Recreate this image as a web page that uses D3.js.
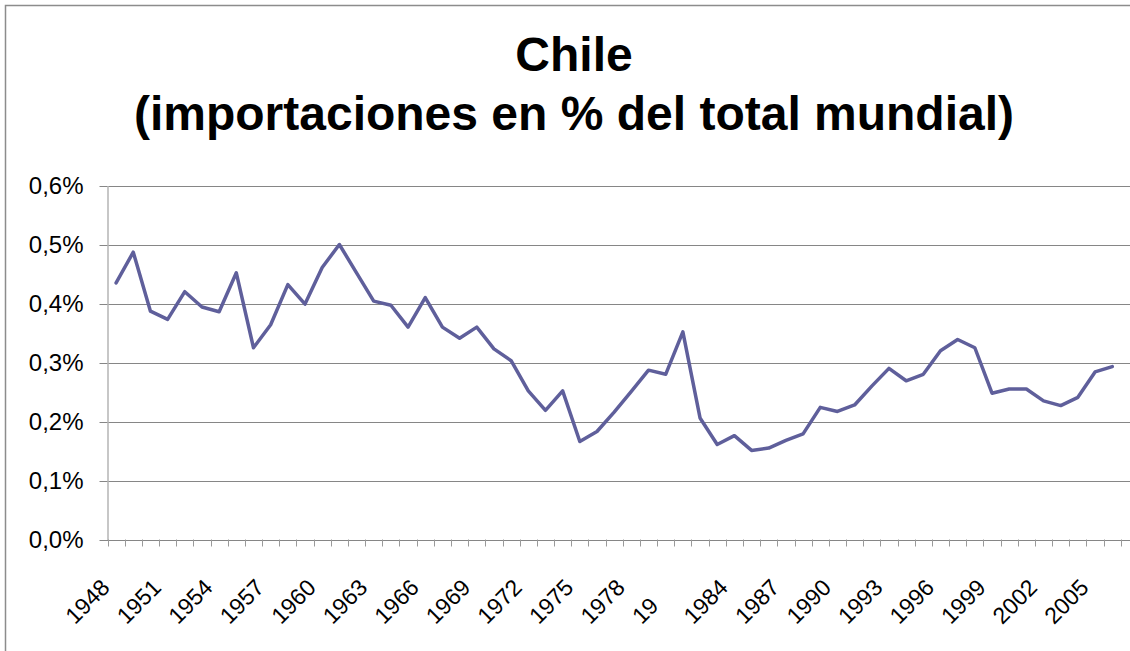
<!DOCTYPE html>
<html lang="es">
  <head>
    <meta charset="utf-8" />
    <style type="text/css">
      html,
      body {
        margin: 0;
        padding: 0;
        background: #fff;
        overflow: hidden;
      }

      svg text {
        font-family: "Liberation Sans", Arial, sans-serif;
      }

      .grid line {
        stroke: #868686;
        stroke-width: 1;
      }
    </style>
  </head>
  <body>
    <svg width="1130" height="651"></svg>

    <script src="https://d3js.org/d3.v7.min.js" type="text/javascript"></script>

    <script type="text/javascript">
      var years = [
        1948, 1949, 1950, 1951, 1952, 1953, 1954, 1955, 1956, 1957,
        1958, 1959, 1960, 1961, 1962, 1963, 1964, 1965, 1966, 1967,
        1968, 1969, 1970, 1971, 1972, 1973, 1974, 1975, 1976, 1977,
        1978, 1979, 1980, 1981, 1982, 1983, 1984, 1985, 1986, 1987,
        1988, 1989, 1990, 1991, 1992, 1993, 1994, 1995, 1996, 1997,
        1998, 1999, 2000, 2001, 2002, 2003, 2004, 2005, 2006, 2007
      ];

      // % of world imports, 1948-2006
      var importShare = [
        0.435, 0.487, 0.387, 0.373, 0.420, 0.394, 0.386, 0.452, 0.325, 0.364,
        0.432, 0.399, 0.461, 0.500, 0.452, 0.404, 0.397, 0.360, 0.410, 0.360,
        0.341, 0.360, 0.323, 0.303, 0.252, 0.219, 0.252, 0.166, 0.183, 0.216,
        0.251, 0.287, 0.280, 0.352, 0.206, 0.161, 0.176, 0.151, 0.155, 0.168,
        0.179, 0.224, 0.217, 0.228, 0.260, 0.290, 0.269, 0.280, 0.320, 0.339,
        0.325, 0.248, 0.255, 0.255, 0.235, 0.227, 0.241, 0.284, 0.293
      ];

      var tickYears = [
        1948, 1951, 1954, 1957, 1960, 1963, 1966, 1969, 1972, 1975,
        1978, 1981, 1984, 1987, 1990, 1993, 1996, 1999, 2002, 2005
      ];
      var tickLabels = [
        "1948", "1951", "1954", "1957", "1960", "1963", "1966", "1969", "1972", "1975",
        "1978", "19", "1984", "1987", "1990", "1993", "1996", "1999", "2002", "2005"
      ];

      var yTicks = [0, 0.1, 0.2, 0.3, 0.4, 0.5, 0.6];

      var titleLines = ["Chile", "(importaciones en % del total mundial)"];

      var svg = d3.select("svg");

      var plot = { left: 107.5, right: 1138, top: 185.5, bottom: 539.5 };

      var x = d3
        .scaleBand()
        .domain(years)
        .range([plot.left, plot.right])
        .paddingInner(0)
        .paddingOuter(0);

      var y = d3.scaleLinear().domain([0, 0.6]).range([plot.bottom, plot.top]);

      function xc(yr) {
        return x(yr) + x.bandwidth() / 2;
      }

      // chart frame
      svg
        .append("rect")
        .attr("x", 5.5)
        .attr("y", 5.5)
        .attr("width", 1200)
        .attr("height", 700)
        .attr("fill", "#fff")
        .attr("stroke", "#8c8c8c")
        .attr("stroke-width", 1.5);

      // title
      svg
        .append("g")
        .selectAll("text")
        .data(titleLines)
        .enter()
        .append("text")
        .attr("x", 574)
        .attr("y", function (d, i) {
          return 71 + i * 59;
        })
        .attr("text-anchor", "middle")
        .attr("font-weight", "bold")
        .attr("font-size", 48)
        .attr("fill", "#000")
        .text(function (d) {
          return d;
        });

      // horizontal gridlines (with short outer ticks)
      svg
        .append("g")
        .attr("class", "grid")
        .selectAll("line")
        .data(yTicks)
        .enter()
        .append("line")
        .attr("x1", plot.left - 8)
        .attr("x2", plot.right)
        .attr("y1", function (d) {
          return Math.round(y(d)) + 0.5;
        })
        .attr("y2", function (d) {
          return Math.round(y(d)) + 0.5;
        });

      // y axis
      var yAxis = svg
        .append("g")
        .attr("transform", "translate(" + plot.left + ",0)")
        .call(
          d3
            .axisLeft(y)
            .tickValues(yTicks)
            .tickSize(0)
            .tickPadding(24)
            .tickFormat(function (d) {
              return d3.format(".1f")(d).replace(".", ",") + "%";
            })
        );
      yAxis.select(".domain").attr("stroke", "#b4b4b4").attr("stroke-width", 1.5);
      yAxis
        .selectAll("text")
        .attr("font-size", 24)
        .attr("fill", "#000")
        .attr("font-family", "Liberation Sans, Arial, sans-serif");

      // x axis line and category boundary ticks
      var boundaries = years.map(function (yr) {
        return x(yr);
      });
      svg
        .append("g")
        .selectAll("line")
        .data(boundaries)
        .enter()
        .append("line")
        .attr("x1", function (d) {
          return Math.round(d) + 0.5;
        })
        .attr("x2", function (d) {
          return Math.round(d) + 0.5;
        })
        .attr("y1", plot.bottom)
        .attr("y2", plot.bottom + 7)
        .attr("stroke", "#9a9a9a")
        .attr("stroke-width", 1);

      // x labels, rotated; all placed as if 4 digits wide so that "19" sits
      // where the start of its full label would be
      var probe = svg
        .append("text")
        .attr("font-size", 23)
        .text("1948");
      var labelW = probe.node().getComputedTextLength();
      probe.remove();

      svg
        .append("g")
        .selectAll("text")
        .data(tickYears)
        .enter()
        .append("text")
        .attr("transform", function (d) {
          return "translate(" + (xc(d) - 5) + "," + 589 + ") rotate(-45)";
        })
        .attr("x", -labelW)
        .attr("text-anchor", "start")
        .attr("font-size", 23)
        .attr("fill", "#000")
        .text(function (d, i) {
          return tickLabels[i];
        });

      // series line
      var line = d3
        .line()
        .x(function (d, i) {
          return xc(years[i]);
        })
        .y(function (d) {
          return y(d);
        });

      svg
        .append("path")
        .datum(importShare)
        .attr("d", line)
        .attr("fill", "none")
        .attr("stroke", "#5f5f9b")
        .attr("stroke-width", 3.5)
        .attr("stroke-linejoin", "round")
        .attr("stroke-linecap", "round");
    </script>
  </body>
</html>
